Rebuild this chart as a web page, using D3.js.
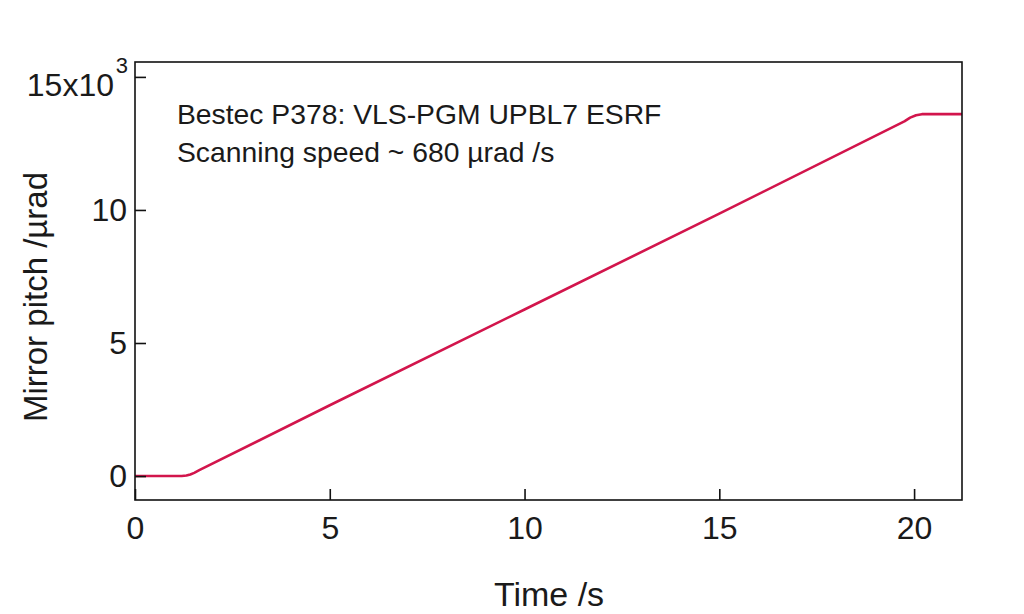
<!DOCTYPE html>
<html><head><meta charset="utf-8">
<script src="https://cdn.jsdelivr.net/npm/d3@7"></script>
<style>
body{margin:0;background:#fff;}
text{font-family:"Liberation Sans",Arial,sans-serif;fill:#1a1a1a;}
</style></head>
<body><svg id="c" width="1024" height="614"></svg>
<script>
const timeS = [0, 1.2, 1.32, 1.42, 1.52, 1.65, 5, 10, 15, 19.75, 19.9, 20.05, 20.2, 21.3];
const pitchK = [0, 0, 0.02, 0.06, 0.12, 0.22, 2.66, 6.26, 9.86, 13.33, 13.47, 13.56, 13.6, 13.6];
const xTicks = [0, 5, 10, 15, 20];
const yTicks = [0, 5, 10, 15];
const note1 = "Bestec P378: VLS-PGM UPBL7 ESRF";
const note2 = "Scanning speed ~ 680 µrad /s";

const svg = d3.select("#c");
const m = {l:135, r:962, t:62, b:500};
const x = d3.scaleLinear().domain([0, 21.23]).range([m.l, m.r]);
const y = d3.scaleLinear().domain([-0.9, 15.56]).range([m.b, m.t]);

svg.append("clipPath").attr("id","cp").append("rect")
  .attr("x",m.l).attr("y",m.t).attr("width",m.r-m.l).attr("height",m.b-m.t);

svg.append("path").datum(timeS.map((t,i)=>[t,pitchK[i]]))
  .attr("clip-path","url(#cp)")
  .attr("d", d3.line().x(d=>x(d[0])).y(d=>y(d[1])))
  .attr("fill","none").attr("stroke","#d2154c").attr("stroke-width",2.6)
  .attr("stroke-linejoin","round");

svg.append("rect").attr("x",m.l).attr("y",m.t).attr("width",m.r-m.l).attr("height",m.b-m.t)
  .attr("fill","none").attr("stroke","#111").attr("stroke-width",1.6);

const xa = svg.append("g").attr("transform",`translate(0,${m.b})`)
  .call(d3.axisBottom(x).tickValues(xTicks).tickSizeInner(-11).tickSizeOuter(0).tickPadding(16));
const ya = svg.append("g").attr("transform",`translate(${m.l},0)`)
  .call(d3.axisLeft(y).tickValues(yTicks).tickSizeInner(-11).tickSizeOuter(0).tickPadding(8)
    .tickFormat(d => d===15 ? "15x10" : d));
[xa,ya].forEach(a=>{
  a.select(".domain").remove();
  a.selectAll("line").attr("stroke","#111").attr("stroke-width",1.6);
  a.selectAll("text").style("font-size","32px").attr("fill","#1a1a1a");
});
ya.selectAll("text").attr("x",-8);
ya.selectAll(".tick").filter(d=>d===15).select("text").attr("x",-21).attr("dy","0.58em");
svg.append("text").attr("x",m.l-7).attr("y",y(15)-4).attr("text-anchor","end")
  .style("font-size","22px").text("3");

svg.append("text").attr("x",177).attr("y",124).style("font-size","28.3px").text(note1);
svg.append("text").attr("x",177).attr("y",162).style("font-size","28.3px").text(note2);

svg.append("text").attr("x",549).attr("y",606).attr("text-anchor","middle")
  .style("font-size","34px").text("Time /s");
svg.append("text").attr("transform","translate(47,297) rotate(-90)").attr("text-anchor","middle")
  .style("font-size","33px").text("Mirror pitch /µrad");
</script></body></html>
